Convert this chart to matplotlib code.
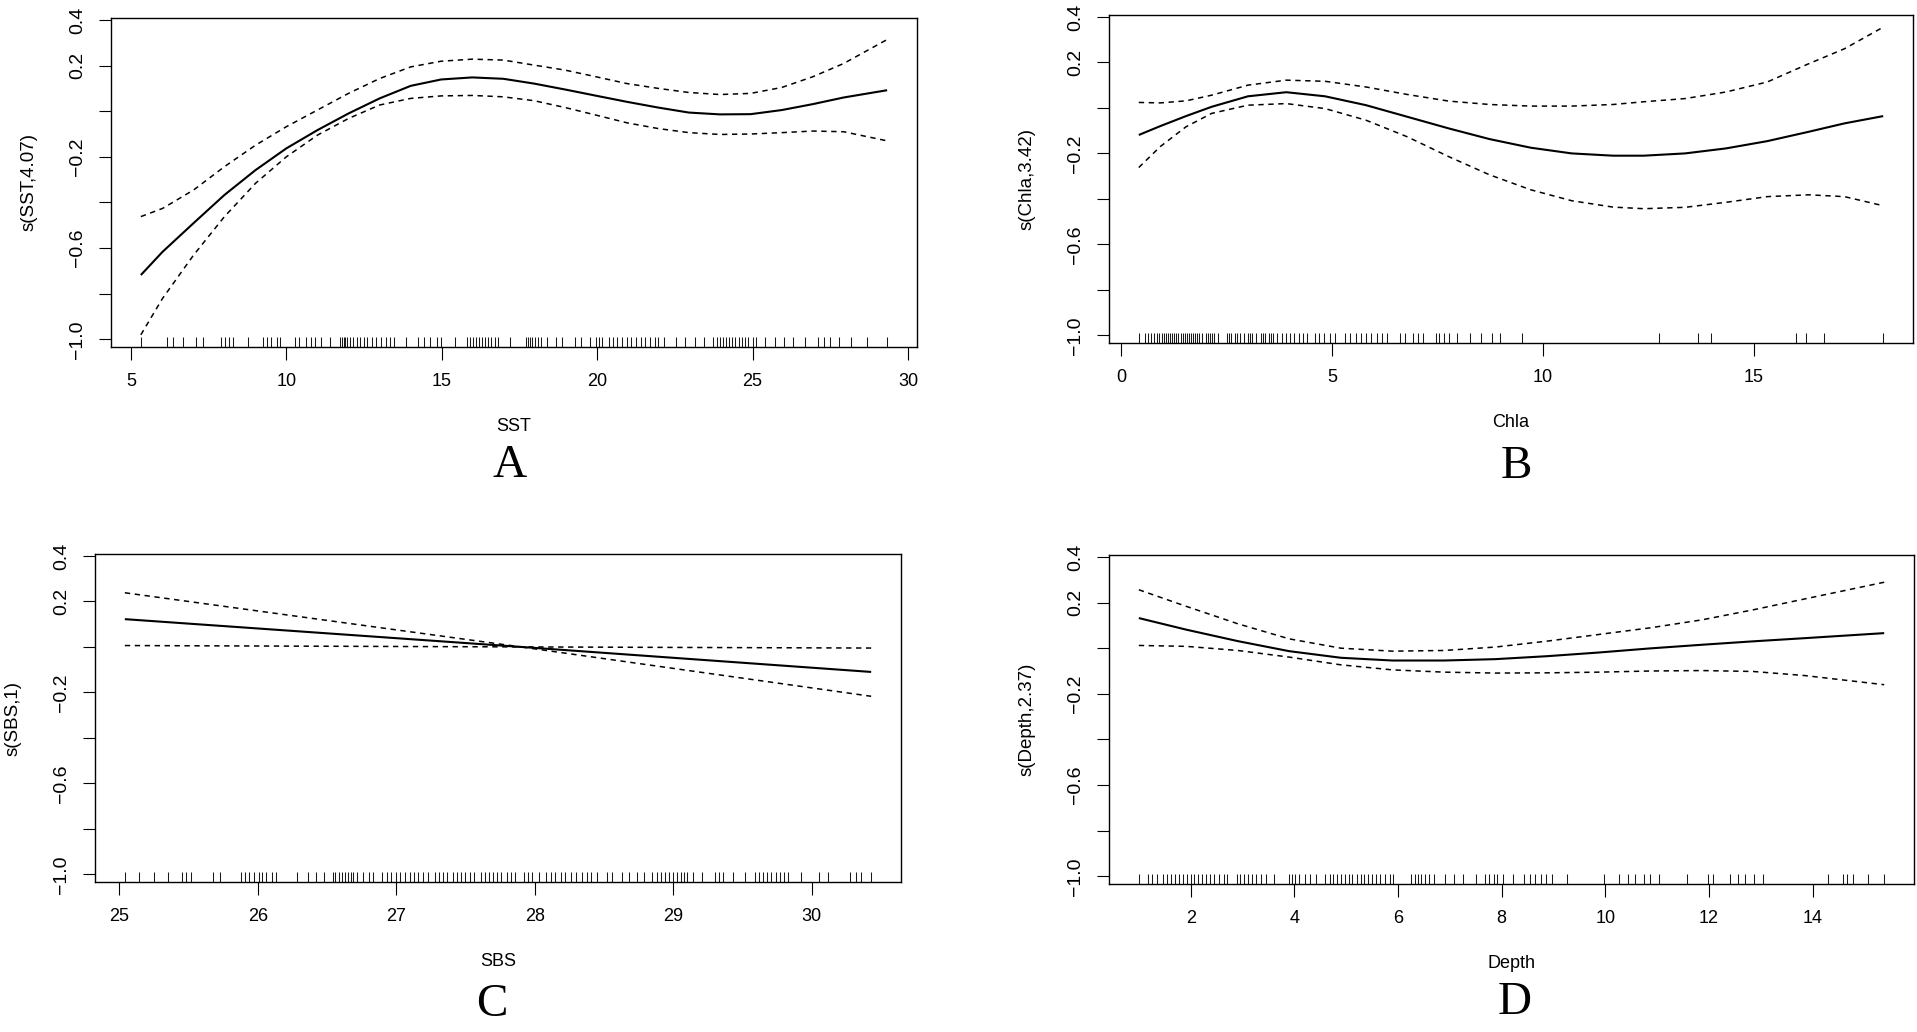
import matplotlib
matplotlib.use("Agg")
import matplotlib.pyplot as plt
import numpy as np

plt.rcParams['font.family'] = ['Liberation Sans', 'DejaVu Sans']

# ---------------- Panel A : SST ----------------
sst_x = [5.32, 6.02, 7.02, 8.01, 9.01, 10.0, 11.0, 12.0, 13.0, 14.0, 14.98, 15.98, 16.98, 17.97,
         18.97, 19.96, 20.96, 21.96, 22.95, 23.95, 24.94, 25.94, 26.94, 27.93, 29.33]
sst_fit = [-0.718, -0.616, -0.49, -0.367, -0.258, -0.163, -0.083, -0.010, 0.056, 0.111, 0.139,
           0.148, 0.142, 0.121, 0.095, 0.068, 0.041, 0.016, -0.006, -0.014, -0.013, 0.005, 0.031,
           0.060, 0.092]
sst_up = [-0.462, -0.426, -0.345, -0.243, -0.149, -0.068, 0.005, 0.078, 0.143, 0.194, 0.219,
          0.228, 0.224, 0.202, 0.18, 0.151, 0.121, 0.1, 0.082, 0.073, 0.078, 0.104, 0.151, 0.209,
          0.314]
sst_lo = [-0.98, -0.82, -0.63, -0.462, -0.316, -0.2, -0.105, -0.032, 0.027, 0.056, 0.067, 0.069,
          0.063, 0.046, 0.016, -0.017, -0.051, -0.076, -0.094, -0.102, -0.1, -0.094, -0.087,
          -0.09, -0.13]
sst_rug = [5.32, 6.17, 6.36, 6.68, 7.08, 7.33, 7.91, 8.03, 8.14, 8.28, 8.78, 9.25, 9.37, 9.51, 9.69,
           9.79, 10.28, 10.42, 10.62, 10.81, 10.93, 11.11, 11.41, 11.72, 11.78, 11.84, 11.90, 11.96,
           12.06, 12.16, 12.26, 12.36, 12.50, 12.61, 12.75, 12.89, 13.05, 13.21, 13.35, 13.45,
           13.84, 14.24, 14.43, 14.63, 14.85, 14.99, 15.42, 15.82, 15.9, 16.0, 16.1, 16.2, 16.3,
           16.4, 16.5, 16.6, 16.7, 16.8, 17.2, 17.7, 17.76, 17.84, 17.92, 18.0, 18.1, 18.2, 18.39,
           18.69, 18.88, 19.28, 19.48, 19.77, 19.97, 20.07, 20.17, 20.37, 20.5, 20.65, 20.8, 20.95,
           21.1, 21.25, 21.4, 21.55, 21.7, 21.85, 21.95, 22.15, 22.54, 22.84, 23.14, 23.43, 23.73,
           23.85, 23.95, 24.05, 24.15, 24.25, 24.35, 24.45, 24.55, 24.65, 24.75, 24.85, 25.0, 25.1,
           25.41, 25.71, 26.0, 26.3, 26.7, 27.09, 27.29, 27.49, 27.78, 28.18, 28.67, 29.33]

# ---------------- Panel B : Chla ----------------
chla_x = [0.41, 0.92, 1.53, 2.14, 3.0, 3.91, 4.83, 5.8, 6.78, 7.76, 8.73, 9.71, 10.68, 11.66,
          12.39, 13.37, 14.34, 15.32, 16.3, 17.15, 18.07]
chla_fit = [-0.119, -0.08, -0.036, 0.005, 0.051, 0.069, 0.051, 0.012, -0.039, -0.09, -0.137,
            -0.175, -0.2, -0.21, -0.21, -0.2, -0.178, -0.146, -0.105, -0.068, -0.036]
chla_up = [0.024, 0.022, 0.031, 0.056, 0.1, 0.122, 0.117, 0.092, 0.059, 0.03, 0.015, 0.008,
           0.008, 0.015, 0.027, 0.041, 0.07, 0.114, 0.194, 0.26, 0.355]
chla_lo = [-0.262, -0.17, -0.083, -0.024, 0.012, 0.019, -0.003, -0.054, -0.127, -0.214, -0.294,
           -0.36, -0.408, -0.436, -0.443, -0.437, -0.415, -0.39, -0.382, -0.39, -0.43]
chla_rug = [0.41, 0.55, 0.62, 0.7, 0.78, 0.85, 0.9, 0.95, 1.0, 1.05, 1.1, 1.15, 1.2, 1.25, 1.3,
            1.35, 1.4, 1.45, 1.5, 1.55, 1.6, 1.65, 1.7, 1.75, 1.8, 1.85, 1.9, 2.0, 2.05, 2.1, 2.15,
            2.2, 2.3, 2.5, 2.55, 2.6, 2.7, 2.75, 2.8, 2.9, 3.0, 3.05, 3.1, 3.2, 3.3, 3.35, 3.4, 3.5,
            3.55, 3.6, 3.7, 3.8, 3.9, 4.0, 4.1, 4.2, 4.3, 4.4, 4.6, 4.69, 4.81, 4.94, 5.06, 5.31,
            5.43, 5.56, 5.68, 5.8, 5.93, 6.05, 6.17, 6.3, 6.6, 6.73, 6.91, 7.04, 7.16, 7.47, 7.53,
            7.65, 7.78, 7.96, 8.27, 8.52, 8.79, 8.98, 9.51, 12.75, 13.68, 13.99, 15.99, 16.23,
            16.67, 18.07]

# ---------------- Panel C : SBS ----------------
sbs_x = [25.04, 27.9, 30.43]
sbs_fit = [0.122, 0.0, -0.11]
sbs_up = [0.238, 0.0, -0.005]
sbs_lo = [0.006, 0.0, -0.217]
sbs_rug = [25.04, 25.14, 25.25, 25.35, 25.45, 25.48, 25.52, 25.68, 25.73, 25.88, 25.91, 25.94,
           25.97, 26.01, 26.03, 26.06, 26.1, 26.13, 26.28, 26.36, 26.42, 26.48, 26.54, 26.56,
           26.59, 26.61, 26.63, 26.65, 26.67, 26.69, 26.72, 26.76, 26.8, 26.83, 26.9, 26.93,
           26.96, 27.0, 27.03, 27.06, 27.1, 27.13, 27.16, 27.19, 27.23, 27.28, 27.31, 27.34,
           27.37, 27.41, 27.44, 27.47, 27.5, 27.53, 27.56, 27.61, 27.64, 27.67, 27.7, 27.73,
           27.76, 27.8, 27.83, 27.86, 27.92, 27.95, 27.98, 28.03, 28.08, 28.12, 28.15, 28.19,
           28.22, 28.26, 28.3, 28.34, 28.38, 28.41, 28.45, 28.52, 28.56, 28.63, 28.68, 28.74,
           28.79, 28.85, 28.88, 28.91, 28.94, 28.97, 29.0, 29.03, 29.06, 29.08, 29.1, 29.14,
           29.21, 29.3, 29.33, 29.36, 29.43, 29.52, 29.59, 29.62, 29.65, 29.68, 29.71, 29.74,
           29.77, 29.8, 29.83, 29.92, 30.05, 30.12, 30.28, 30.32, 30.36, 30.43]

# ---------------- Panel D : Depth ----------------
depth_x = [1.0, 1.92, 2.91, 3.9, 4.9, 5.89, 6.89, 7.88, 8.88, 9.87, 10.86, 11.86, 12.85, 13.85,
           15.38]
depth_fit = [0.132, 0.081, 0.031, -0.013, -0.042, -0.054, -0.054, -0.048, -0.035, -0.019, -0.001,
             0.015, 0.03, 0.044, 0.066]
depth_up = [0.256, 0.183, 0.107, 0.041, 0.0, -0.013, -0.01, 0.005, 0.031, 0.06, 0.089, 0.124,
            0.168, 0.216, 0.289]
depth_lo = [0.012, 0.008, -0.01, -0.039, -0.073, -0.095, -0.105, -0.109, -0.108, -0.105, -0.1,
            -0.098, -0.102, -0.12, -0.16]
depth_rug = [1.0, 1.17, 1.26, 1.35, 1.47, 1.55, 1.62, 1.7, 1.77, 1.85, 1.92, 2.0, 2.07, 2.15,
             2.22, 2.3, 2.38, 2.45, 2.55, 2.65, 2.71, 2.89, 2.95, 3.02, 3.1, 3.18, 3.26, 3.35, 3.45,
             3.6, 3.89, 3.95, 4.02, 4.1, 4.2, 4.3, 4.42, 4.6, 4.68, 4.75, 4.82, 4.9, 4.98, 5.05,
             5.12, 5.2, 5.28, 5.35, 5.42, 5.5, 5.58, 5.65, 5.75, 5.85, 5.9, 6.26, 6.32, 6.38, 6.45,
             6.52, 6.6, 6.7, 6.9, 7.08, 7.26, 7.5, 7.67, 7.75, 7.85, 7.91, 8.03, 8.21, 8.44, 8.55,
             8.65, 8.75, 8.85, 8.97, 9.27, 9.98, 10.27, 10.43, 10.57, 10.75, 10.87, 11.04, 11.57,
             11.99, 12.08, 12.4, 12.56, 12.7, 12.87, 13.05, 14.29, 14.59, 14.67, 14.77, 15.06, 15.38]

x_labels = ["SST", "Chla", "SBS", "Depth"]
y_labels = ["s(SST,4.07)", "s(Chla,3.42)", "s(SBS,1)", "s(Depth,2.37)"]
panel_letters = ["A", "B", "C", "D"]
x_ticks = [[5, 10, 15, 20, 25, 30], [0, 5, 10, 15], [25, 26, 27, 28, 29, 30],
           [2, 4, 6, 8, 10, 12, 14]]
y_ticks = [-1.0, -0.8, -0.6, -0.4, -0.2, 0.0, 0.2, 0.4]
y_tick_labels = ["\u22121.0", "", "\u22120.6", "", "\u22120.2", "", "0.2", "0.4"]

panels = [
    (sst_x, sst_fit, sst_up, sst_lo, sst_rug),
    (chla_x, chla_fit, chla_up, chla_lo, chla_rug),
    (sbs_x, sbs_fit, sbs_up, sbs_lo, sbs_rug),
    (depth_x, depth_fit, depth_up, depth_lo, depth_rug),
]

# shared y range (R: range of all CI bands, expanded by 4 %)
all_ci = np.concatenate([np.asarray(p[2] + p[3], float) for p in panels])
ymin, ymax = all_ci.min(), all_ci.max()
yr = ymax - ymin
ylim = (ymin - 0.04 * yr, ymax + 0.04 * yr)

W, H = 1917, 1032
fig = plt.figure(figsize=(W / 100, H / 100), dpi=100)

# axes boxes in pixels: left, right, top, bottom
boxes = [(111, 917, 18, 347), (1109, 1913, 15, 343), (95, 901, 554, 882), (1109, 1914, 555, 884)]
letter_pos = [(0.494, -0.362), (0.507, -0.378), (0.4926, -0.375), (0.504, -0.362)]

for i, (px, fit, up, lo, rug) in enumerate(panels):
    l, r, t, b = boxes[i]
    ax = fig.add_axes([l / W, 1 - b / H, (r - l) / W, (b - t) / H])
    ax.plot(px, fit, color="black", lw=1.5, solid_capstyle="butt", solid_joinstyle="round")
    ax.plot(px, up, color="black", lw=1.1, dashes=(3.5, 3))
    ax.plot(px, lo, color="black", lw=1.1, dashes=(3.5, 3))
    ax.vlines(rug, 0, 0.03, transform=ax.get_xaxis_transform(), color="#1a1a1a", lw=0.75)

    xr = max(rug + px) - min(rug + px)
    ax.set_xlim(min(rug + px) - 0.04 * xr, max(rug + px) + 0.04 * xr)
    ax.set_ylim(*ylim)

    ax.set_xticks(x_ticks[i])
    ax.set_xticklabels([str(v) for v in x_ticks[i]])
    ax.set_yticks(y_ticks)
    ax.set_yticklabels(y_tick_labels, rotation=90, va="center")
    ax.tick_params(axis="both", direction="out", length=9, width=0.8)
    ax.tick_params(axis="x", pad=10, labelsize=13)
    ax.tick_params(axis="y", pad=9, labelsize=14)
    for sp in ax.spines.values():
        sp.set_linewidth(1.0)

    ax.set_xlabel(x_labels[i], fontsize=13)
    ax.xaxis.set_label_coords(0.5, -80 / (b - t))
    ax.xaxis.label.set_va("center")
    ax.set_ylabel(y_labels[i], fontsize=13.5)
    ax.yaxis.set_label_coords(-82 / (r - l), 0.5)
    ax.yaxis.label.set_va("center")

    lx, ly = letter_pos[i]
    ax.text(lx, ly, panel_letters[i], transform=ax.transAxes, ha="center", va="center",
            fontsize=34, family=["Liberation Serif", "DejaVu Serif"])

fig.savefig("out.png", dpi=100, facecolor="white")
